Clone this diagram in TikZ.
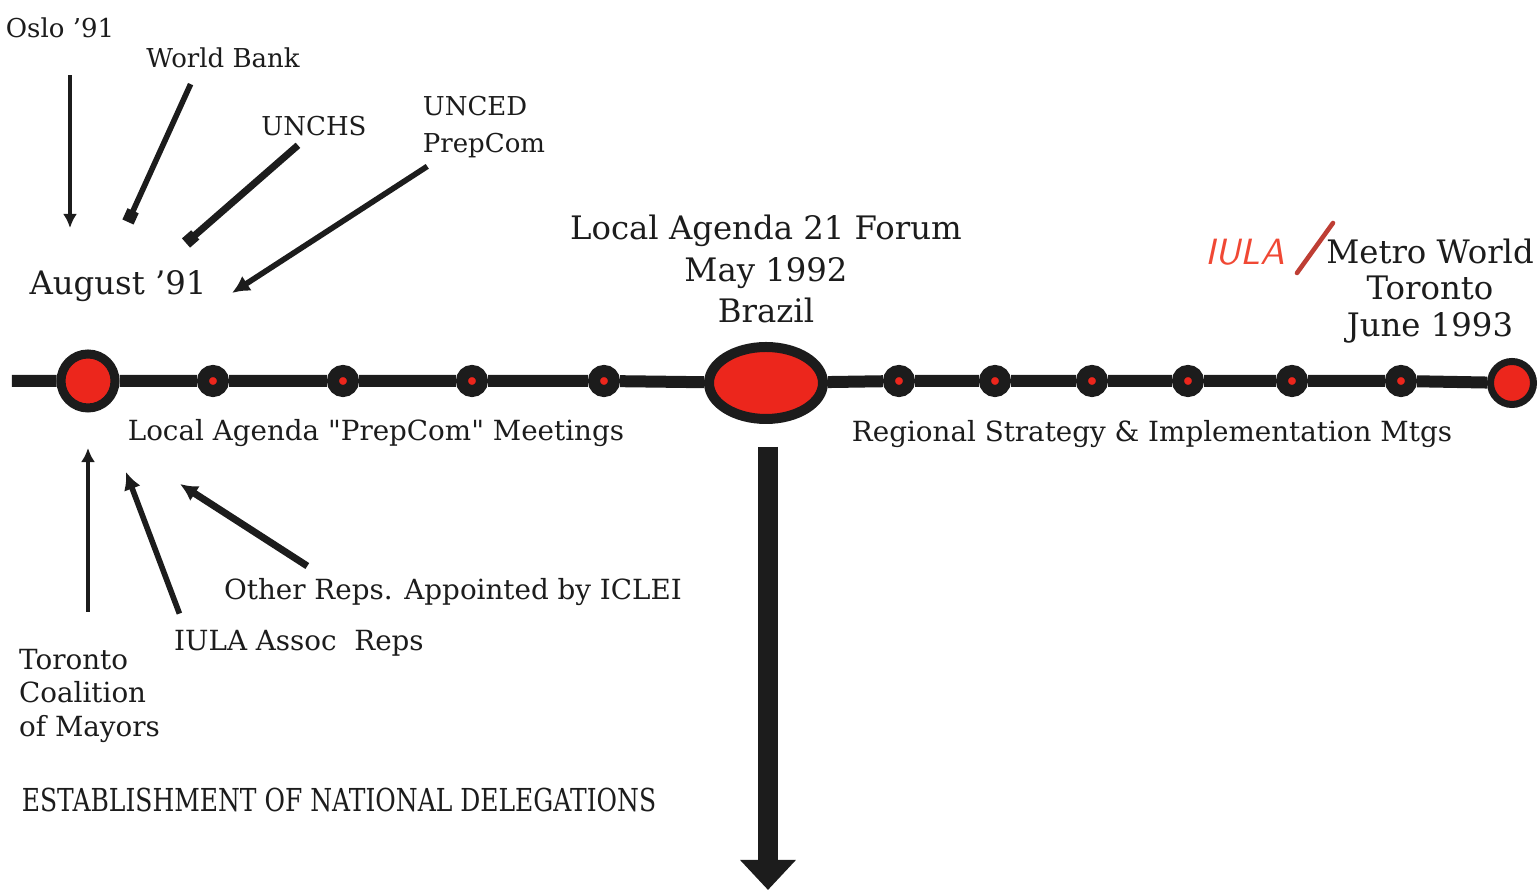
\documentclass[tikz,border=0pt]{standalone}
\usepackage{fontspec}
\setmainfont{DejaVu Serif}
\newfontfamily\quotefont{DejaVu Serif}
\usetikzlibrary{arrows.meta,shapes.geometric}
\definecolor{ink}{RGB}{28,28,28}
\definecolor{marker}{RGB}{236,38,28}
\definecolor{pen}{RGB}{240,72,52}
\definecolor{slashred}{RGB}{190,62,52}
\begin{document}
\begin{tikzpicture}[
    every node/.style={inner sep=1pt, text=ink},
    toplbl/.style={font=\fontsize{7.4}{10.5}\selectfont},
    note/.style={font=\fontsize{7.9}{9.5}\selectfont},
    title/.style={font=\fontsize{9.2}{11.7}\selectfont, align=center},
    smallstop/.style={circle, draw=ink, fill=marker, line width=0.12cm, minimum size=0.2cm, inner sep=0pt},
    bigstop/.style={circle, draw=ink, fill=marker, line width=0.09cm, minimum size=0.54cm, inner sep=0pt},
    endstop/.style={circle, draw=ink, fill=marker, line width=0.07cm, minimum size=0.43cm, inner sep=0pt},
    forumstop/.style={ellipse, draw=ink, fill=marker, line width=0.1cm, minimum width=1.14cm, minimum height=0.72cm, inner sep=0pt},
    rail/.style={draw=ink, line width=0.12cm},
    thinfeed/.style={draw=ink, line width=0.9pt, -{Latex[length=4pt,width=4pt]}},
    feed/.style={draw=ink, line width=1.6pt, -{Latex[length=5pt,width=5pt]}},
    blobfeed/.style={draw=ink, line width=1.6pt, -{Square[length=3.5pt,width=3.5pt]}},
    bigfeed/.style={draw=ink, line width=0.2cm, -{Triangle[length=0.3cm,width=0.54cm]}}
  ]
  \useasboundingbox (0,0) rectangle (15.4,-8.96);

  \node[bigstop] (d0) at (0.88,-3.81) {};
  \node[smallstop] (l1) at (2.13,-3.81) {};
  \node[smallstop] (l2) at (3.43,-3.81) {};
  \node[smallstop] (l3) at (4.72,-3.81) {};
  \node[smallstop] (l4) at (6.04,-3.81) {};
  \node[forumstop] (forum) at (7.66,-3.83) {};
  \node[smallstop] (r1) at (8.99,-3.81) {};
  \node[smallstop] (r2) at (9.95,-3.81) {};
  \node[smallstop] (r3) at (10.92,-3.81) {};
  \node[smallstop] (r4) at (11.88,-3.81) {};
  \node[smallstop] (r5) at (12.92,-3.81) {};
  \node[smallstop] (r6) at (14.01,-3.81) {};
  \node[endstop] (d1) at (15.12,-3.83) {};
  \coordinate (railstart) at (0.12,-3.81);
  \draw[rail] (railstart) -- (d0) -- (l1) -- (l2) -- (l3) -- (l4) -- (forum)
    -- (r1) -- (r2) -- (r3) -- (r4) -- (r5) -- (r6) -- (d1);

  \node[toplbl] (oslo) at (0.60,-0.28) {Oslo '91};
  \node[toplbl] (wbank) at (2.23,-0.58) {World Bank};
  \node[toplbl] (unchs) at (3.14,-1.26) {UNCHS};
  \node[toplbl, align=left] (unced) at (4.84,-1.27) {UNCED\\PrepCom};
  \node[title] (august) at (1.18,-2.86) {August '91};
  \node[title] (forumtxt) at (7.66,-2.69) {Local Agenda 21 Forum\\May 1992\\Brazil};
  \node[text=pen, font=\sffamily\itshape\fontsize{10.4}{12}\selectfont] (iulared) at (12.45,-2.52) {IULA};
  \node[title, font=\fontsize{9.2}{10.5}\selectfont] (metro) at (14.30,-2.91) {Metro World\\Toronto\\June 1993};
  \node[note] (prep) at (3.76,-4.33) {Local Agenda {\quotefont"}PrepCom{\quotefont"} Meetings};
  \node[note] (region) at (11.52,-4.34) {Regional Strategy \& Implementation Mtgs};
  \node[note] (others) at (4.53,-5.92) {Other Reps. Appointed by ICLEI};
  \node[note] (iula) at (2.99,-6.43) {IULA Assoc\ \ Reps};
  \node[note, align=left, anchor=north west] (tcm) at (0.15,-6.45) {Toronto\\Coalition\\of Mayors};
  \node[font=\addfontfeatures{FakeStretch=0.79}\fontsize{9}{11}\selectfont] (nations) at (3.39,-8.00) {ESTABLISHMENT OF NATIONAL DELEGATIONS};

  \draw[slashred, line width=1.3pt, line cap=round] (12.97,-2.73) -- (13.33,-2.23);

  \coordinate (oslotip) at (0.70,-2.28);
  \coordinate (wbanktip) at (1.28,-2.22);
  \coordinate (unchstip) at (1.86,-2.43);
  \coordinate (uncedtip) at (2.32,-2.93);
  \coordinate (tcmtip) at (0.88,-4.48);
  \coordinate (iulatip) at (1.26,-4.72);
  \coordinate (otherstip) at (1.80,-4.84);
  \coordinate (downtip) at (7.68,-8.90);

  \draw[thinfeed, shorten <=0.33cm] (oslo.south -| oslotip) -- (oslotip);
  \draw[blobfeed, shorten <=0.13cm] ([xshift=-0.27cm]wbank.south) -- (wbanktip);
  \draw[blobfeed, line width=2pt, shorten <=0.08cm] ([xshift=-0.1cm]unchs.south) -- (unchstip);
  \draw[feed, shorten <=0.08cm] ([xshift=-0.5cm]unced.south) -- (uncedtip);
  \draw[thinfeed, shorten <=0.33cm] (tcm.north -| tcmtip) -- (tcmtip);
  \draw[feed, shorten <=0.13cm] ([xshift=0.14cm]iula.north west) -- (iulatip);
  \draw[feed, line width=2pt, shorten <=0.15cm] ([xshift=1.0cm]others.north west) -- (otherstip);
  \draw[bigfeed, shorten <=0.23cm] (forum.south -| downtip) -- (downtip);
\end{tikzpicture}
\end{document}
